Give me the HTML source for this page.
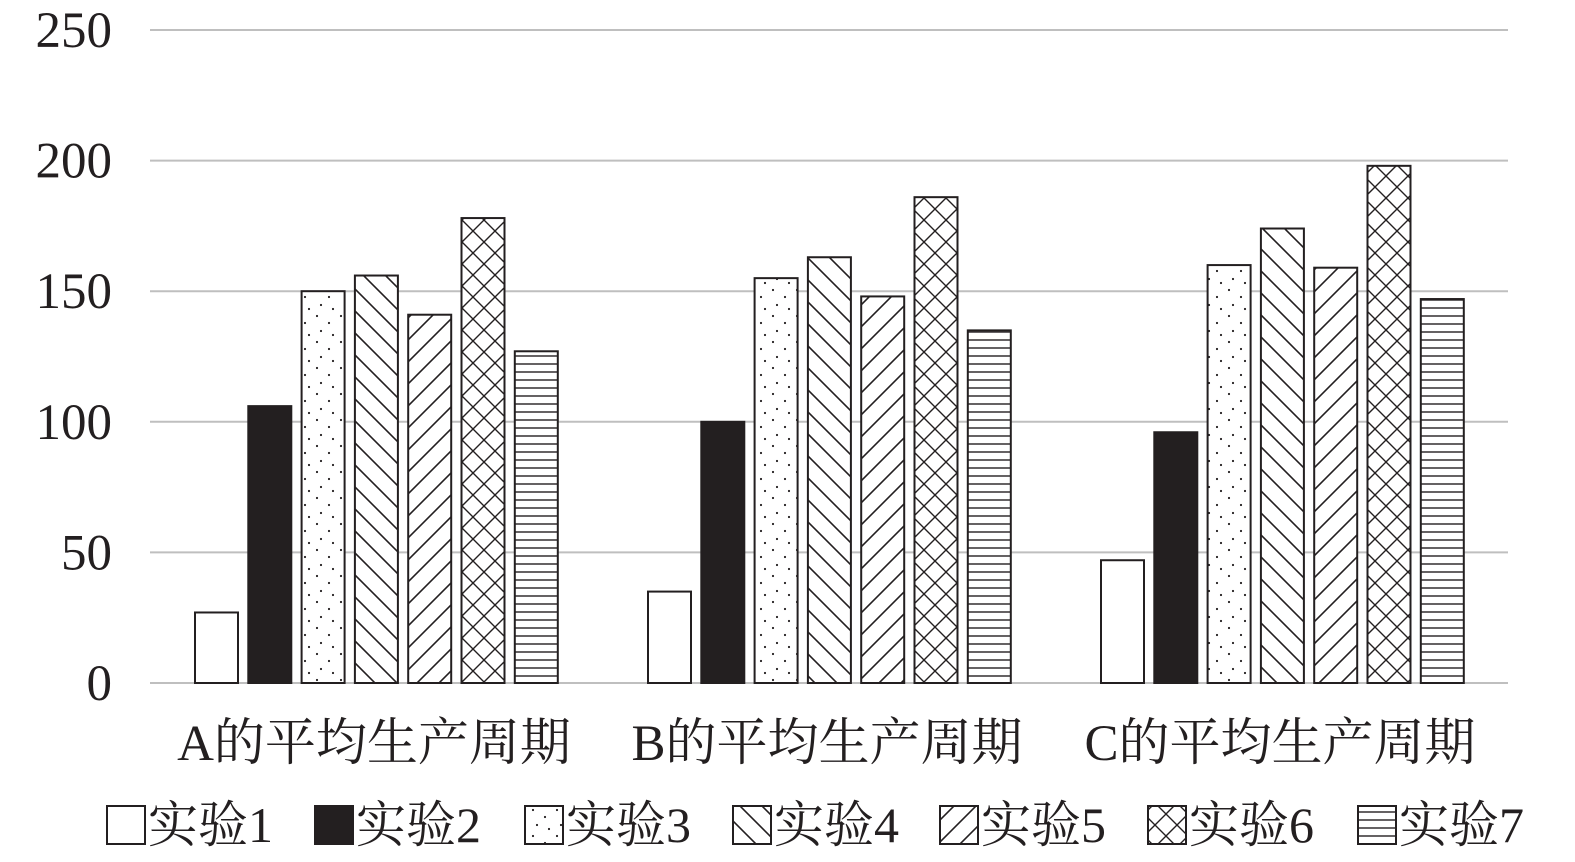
<!DOCTYPE html>
<html><head><meta charset="utf-8">
<style>
html,body{margin:0;padding:0;background:#fff;}
svg{display:block;}
text{font-family:"Liberation Serif","Noto Serif CJK SC",serif;fill:#231f20;}
</style></head>
<body>
<svg id="chart" width="1575" height="862" viewBox="0 0 1575 862" xmlns="http://www.w3.org/2000/svg">
<defs>
<pattern id="p1" patternUnits="userSpaceOnUse" width="10" height="10"><rect width="10" height="10" fill="#fff"/></pattern>
<pattern id="p2" patternUnits="userSpaceOnUse" width="10" height="10"><rect width="10" height="10" fill="#231f20"/></pattern>
<pattern id="p3" patternUnits="userSpaceOnUse" width="24" height="26"><rect width="24" height="26" fill="#fff"/><circle cx="5" cy="4" r="1.1" fill="#231f20"/><circle cx="17" cy="11" r="1.1" fill="#231f20"/><circle cx="9" cy="19" r="1.1" fill="#231f20"/><circle cx="21" cy="23" r="1.1" fill="#231f20"/></pattern>
<pattern id="p4" patternUnits="userSpaceOnUse" width="22" height="22"><rect width="22" height="22" fill="#fff"/><path d="M-2,-2 L24,24 M-2,20 L2,24 M20,-2 L24,2" stroke="#231f20" stroke-width="1.6"/></pattern>
<pattern id="p5" patternUnits="userSpaceOnUse" width="22" height="22"><rect width="22" height="22" fill="#fff"/><path d="M-2,24 L24,-2 M-2,2 L2,-2 M20,24 L24,20" stroke="#231f20" stroke-width="1.6"/></pattern>
<pattern id="p6" patternUnits="userSpaceOnUse" width="22" height="22"><rect width="22" height="22" fill="#fff"/><path d="M-2,-2 L24,24 M-2,24 L24,-2" stroke="#231f20" stroke-width="1.4"/></pattern>
<pattern id="p7" patternUnits="userSpaceOnUse" width="10" height="8"><rect width="10" height="8" fill="#fff"/><path d="M0,4 L10,4" stroke="#231f20" stroke-width="1.4"/></pattern>
</defs>
<g id="grid"></g><g id="bars"></g><g id="labels"></g><g id="legend"></g>
</svg>
<script>
const categories = ["A的平均生产周期","B的平均生产周期","C的平均生产周期"];
const seriesNames = ["实验1","实验2","实验3","实验4","实验5","实验6","实验7"];
const s1 = [27,35,47];
const s2 = [106,100,96];
const s3 = [150,155,160];
const s4 = [156,163,174];
const s5 = [141,148,159];
const s6 = [178,186,198];
const s7 = [127,135,147];
const yTicks = [0,50,100,150,200,250];
const series = [s1,s2,s3,s4,s5,s6,s7];
const NS="http://www.w3.org/2000/svg";
const y0=683, yTop=30, yMax=250, xL=150, xR=1508;
function y(v){return y0-(v/yMax)*(y0-yTop);}
function groupX(i){return 195+i*453;}
function barX(g,s){return groupX(g)+s*53.3;}
function mk(tag,attrs,parent){const e=document.createElementNS(NS,tag);for(const k in attrs)e.setAttribute(k,attrs[k]);parent.appendChild(e);return e;}
const grid=document.getElementById('grid'),bars=document.getElementById('bars'),labels=document.getElementById('labels'),legend=document.getElementById('legend');
yTicks.forEach(t=>{
  const l=mk('line',{x1:xL,x2:xR,y1:y(t),y2:y(t),stroke:'#bfbfbf','stroke-width':2},grid);
  
  
  const tx=mk('text',{x:112,y:y(t)+17,'text-anchor':'end','font-size':51},labels);
  tx.textContent=t;
  
  
});
categories.forEach((c,g)=>{
  series.forEach((arr,s)=>{
    const r=mk('rect',{x:barX(g,s),y:y(arr[g]),width:43,height:y0-y(arr[g]),fill:'url(#p'+(s+1)+')',stroke:'#231f20','stroke-width':2},bars);
    
    
  });
  const tx=mk('text',{x:groupX(g)+179,y:760,'text-anchor':'middle','font-size':51},labels);
  tx.textContent=c;
  
  
});
const lx=[107,315,525,733,940,1148,1358];
seriesNames.forEach((n,i)=>{
  const r=mk('rect',{x:lx[i],y:806,width:38,height:38,fill:'url(#p'+(i+1)+')',stroke:'#231f20','stroke-width':2},legend);
  
  
  const t=mk('text',{x:lx[i]+41,y:842,'font-size':50},legend);
  t.textContent=n;
  
  
});
</script>
</body></html>
